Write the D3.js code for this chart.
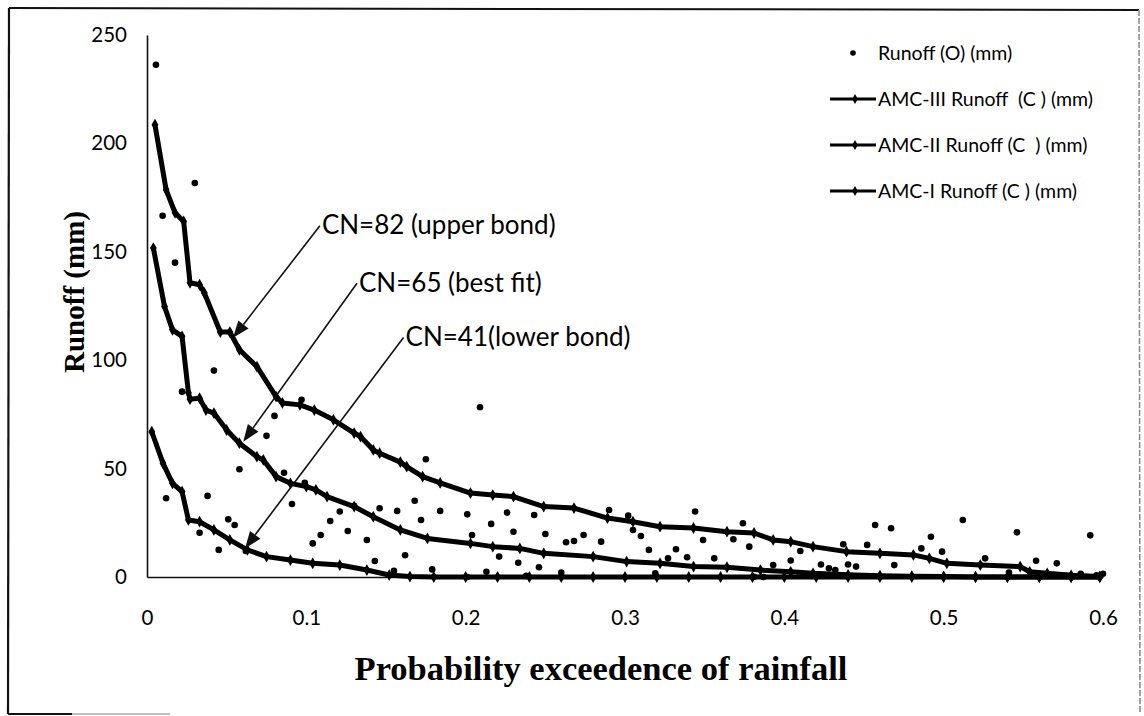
<!DOCTYPE html>
<html>
<head>
<meta charset="utf-8">
<script src="https://cdn.jsdelivr.net/npm/d3@7"></script>
<style>
  html, body { margin: 0; padding: 0; background: #fff; }
  svg { display: block; }
  .legend text { white-space: pre; }
</style>
</head>
<body>
<svg id="chart" width="1144" height="716"></svg>
<script>
// Tick values for both axes
const probTicks = [0, 0.1, 0.2, 0.3, 0.4, 0.5, 0.6];
const runoffTicks = [0, 50, 100, 150, 200, 250];

// Observed runoff (mm) against probability of exceedence
const observedRunoff = [
  [0.0056,236.3],[0.0098,166.6],[0.012,36.3],[0.0176,145],[0.022,85.5],[0.030,181.7],[0.033,20.4],
  [0.038,37.4],[0.042,95.2],[0.045,12.5],[0.051,26.6],[0.055,24],[0.058,49.7],[0.062,12],
  [0.075,65.1],[0.080,74.3],[0.086,48.1],[0.091,33.7],[0.097,81.7],[0.099,43.5],[0.104,15.5],
  [0.109,19.4],[0.115,25.8],[0.121,30.2],[0.126,21.2],[0.130,32.8],[0.138,17.1],[0.143,7.4],
  [0.146,31.7],[0.155,2.9],[0.157,30.5],[0.162,10],[0.168,35.2],[0.172,26.3],[0.175,54.3],
  [0.179,3.5],[0.184,30.5],[0.201,28.9],[0.201,0],[0.204,19.4],[0.209,78.3],[0.213,2.4],
  [0.216,24.5],[0.221,9.4],[0.226,29.7],[0.230,20.9],[0.233,6.6],[0.238,0.5],[0.243,28.6],
  [0.246,4.5],[0.250,19.8],[0.260,2],[0.263,16],[0.268,16.6],[0.274,19.4],[0.285,16.3],
  [0.290,30.9],[0.302,28.3],[0.305,21.7],[0.310,18.9],[0.315,12.5],[0.319,1.7],[0.327,8.6],
  [0.332,12.8],[0.339,9.1],[0.344,30.2],[0.349,17.1],[0.356,8.6],[0.368,17.4],[0.374,24.8],
  [0.378,14],[0.381,0.1],[0.387,0],[0.393,5.5],[0.404,7.6],[0.410,12],[0.423,5.8],[0.428,4],
  [0.432,3.2],[0.437,15.1],[0.440,5.8],[0.445,4.8],[0.452,14.8],[0.457,24],[0.467,22.5],
  [0.469,5.5],[0.486,13.2],[0.492,18.6],[0.499,11.7],[0.512,26.3],[0.526,8.6],[0.541,2],
  [0.546,20.6],[0.558,7.5],[0.571,6.3],[0.592,19.2],[0.562,1],[0.577,0.5],[0.586,1.5],
  [0.596,0.8],[0.600,1.5]
];

// Computed runoff, CN = 82 (AMC-III)
const amc3Runoff = [
  [0.005,208.6],[0.012,178.6],[0.0176,168],[0.023,164],[0.027,135.7],[0.033,134.8],[0.036,131],
  [0.046,113],[0.052,113],[0.058,104.8],[0.069,97],[0.081,83.2],[0.085,80.3],[0.096,79.4],
  [0.105,77],[0.117,72.5],[0.130,66.4],[0.134,64.8],[0.142,58.6],[0.146,57.1],[0.159,53],
  [0.163,50.9],[0.173,46.3],[0.184,43.4],[0.203,38.7],[0.217,37.8],[0.230,37.1],[0.249,32.5],
  [0.268,31.8],[0.289,27.2],[0.305,25.5],[0.322,23.2],[0.343,22.6],[0.364,20.9],[0.381,20.3],
  [0.393,17.1],[0.404,16.3],[0.418,14],[0.439,11.7],[0.460,10.9],[0.481,10.2],[0.491,8.6],
  [0.502,6.3],[0.523,5.5],[0.548,4.8],[0.554,2.4],[0.565,1.7],[0.580,0.8],[0.598,0.2]
];

// Computed runoff, CN = 65 (AMC-II)
const amc2Runoff = [
  [0.004,151.7],[0.011,124.8],[0.016,114],[0.022,111],[0.026,85],[0.027,82],[0.033,82.5],
  [0.037,77],[0.042,75.6],[0.050,67.8],[0.058,61.7],[0.069,55.5],[0.073,54],[0.081,46.3],
  [0.090,43.2],[0.100,41.7],[0.106,40.2],[0.113,37.1],[0.130,32.5],[0.142,27.8],[0.159,21.7],
  [0.176,17.8],[0.203,15.5],[0.217,14],[0.234,13.2],[0.249,10.9],[0.280,9.4],[0.301,7.1],
  [0.322,6.3],[0.343,4.8],[0.364,4.5],[0.385,3.2],[0.404,2.4],[0.418,1.7],[0.440,1.0],
  [0.460,0.6],[0.480,0.4],[0.500,0.2],[0.520,0],[0.540,0],[0.560,0],[0.580,0],[0.598,0]
];

// Computed runoff, CN = 41 (AMC-I)
const amc1Runoff = [
  [0.003,67],[0.010,52.5],[0.016,43.2],[0.022,39.4],[0.026,26.3],[0.033,25.5],[0.042,21.7],
  [0.052,17.1],[0.063,12.5],[0.075,9.4],[0.090,7.8],[0.104,6.3],[0.121,5.5],[0.138,3.2],
  [0.152,0.9],[0.165,0.2],[0.180,0],[0.200,0],[0.220,0],[0.240,0],[0.260,0],[0.280,0],
  [0.300,0],[0.320,0],[0.340,0],[0.360,0],[0.380,0],[0.400,0],[0.420,0],[0.440,0],
  [0.460,0],[0.480,0],[0.500,0],[0.520,0],[0.540,0],[0.560,0],[0.580,0],[0.598,0]
];

const legendLabels = [
  "Runoff (O) (mm)",
  "AMC-III Runoff  (C ) (mm)",
  "AMC-II Runoff (C  ) (mm)",
  "AMC-I Runoff (C ) (mm)"
];

// Curve-number callouts: label, label anchor (prob, mm), arrow tip (prob, mm)
const calloutLabels = ["CN=82 (upper bond)", "CN=65 (best fit)", "CN=41(lower bond)"];
const calloutAnchor = [[0.1085, 162], [0.1318, 135.5], [0.1610, 110.5]];
const calloutTip = [[0.0540, 110.3], [0.0604, 62.4], [0.0615, 13.2]];

const svg = d3.select("#chart");
const sansFont = "Lato, 'Open Sans', sans-serif";
const serifFont = "'Liberation Serif', 'DejaVu Serif', serif";

const x = d3.scaleLinear().domain([0, 0.6]).range([147, 1103]);
const y = d3.scaleLinear().domain([0, 250]).range([577, 35]);

// Outer frame
const frame = svg.append("g").attr("fill", "none");
frame.append("line").attr("x1", 9).attr("y1", 8).attr("x2", 1139).attr("y2", 10)
  .attr("stroke", "#111").attr("stroke-width", 2);
frame.append("line").attr("x1", 9).attr("y1", 8).attr("x2", 8).attr("y2", 714)
  .attr("stroke", "#111").attr("stroke-width", 2.2);
frame.append("line").attr("x1", 1139).attr("y1", 10).attr("x2", 1140).attr("y2", 714)
  .attr("stroke", "#888").attr("stroke-width", 1.5).attr("stroke-dasharray", "6 2");
frame.append("line").attr("x1", 8).attr("y1", 714).attr("x2", 72).attr("y2", 714)
  .attr("stroke", "#111").attr("stroke-width", 2);
frame.append("line").attr("x1", 72).attr("y1", 714).attr("x2", 170).attr("y2", 714)
  .attr("stroke", "#aaa").attr("stroke-width", 1.5);

// Axes
const xAxis = svg.append("g").attr("transform", `translate(0,${y(0)})`)
  .call(d3.axisBottom(x).tickValues(probTicks).tickSize(0).tickPadding(33)
    .tickFormat(d => d === 0 ? "0" : d3.format(".1f")(d)));
xAxis.select(".domain").attr("stroke", "#111").attr("stroke-width", 1.6);
xAxis.selectAll("text").attr("font-family", sansFont).attr("font-size", 20.5).attr("fill", "#000");

const yAxis = svg.append("g").attr("transform", `translate(${x(0)},0)`)
  .call(d3.axisLeft(y).tickValues(runoffTicks).tickSize(0).tickPadding(20));
yAxis.select(".domain").attr("stroke", "#111").attr("stroke-width", 1.6);
yAxis.selectAll("text").attr("font-family", sansFont).attr("font-size", 20.5).attr("fill", "#000");

// Axis titles
svg.append("text")
  .attr("x", (x(0) + x(0.6)) / 2 - 24).attr("y", 680)
  .attr("text-anchor", "middle")
  .attr("font-family", serifFont).attr("font-weight", "bold").attr("font-size", 34.5)
  .attr("fill", "#000")
  .text("Probability exceedence of rainfall");

svg.append("text")
  .attr("transform", `translate(84,${(y(0) + y(250)) / 2 - 14}) rotate(-90)`)
  .attr("text-anchor", "middle")
  .attr("font-family", serifFont).attr("font-weight", "bold").attr("font-size", 29)
  .attr("fill", "#000")
  .text("Runoff (mm)");

// Computed runoff curves
const line = d3.line().x(d => x(d[0])).y(d => y(d[1]));
const diamond = d3.symbol().type(d3.symbolDiamond).size(40);
[amc3Runoff, amc2Runoff, amc1Runoff].forEach(series => {
  svg.append("path").datum(series)
    .attr("d", line)
    .attr("fill", "none").attr("stroke", "#000")
    .attr("stroke-width", 5).attr("stroke-linejoin", "round").attr("stroke-linecap", "round");
  svg.append("g").selectAll("path").data(series).join("path")
    .attr("d", diamond)
    .attr("transform", d => `translate(${x(d[0])},${y(d[1])})`)
    .attr("fill", "#000");
});

// Observed runoff points
svg.append("g").selectAll("circle").data(observedRunoff).join("circle")
  .attr("cx", d => x(d[0])).attr("cy", d => y(d[1])).attr("r", 3.3)
  .attr("fill", "#000");

// Callouts with arrows
const callouts = svg.append("g");
calloutLabels.forEach((label, i) => {
  const [ax, ay] = calloutAnchor[i];
  const [tx, ty] = calloutTip[i];
  const x1 = x(ax), y1 = y(ay), x2 = x(tx), y2 = y(ty);
  const ang = Math.atan2(y2 - y1, x2 - x1);
  const headLen = 17, headHalf = 6.5;
  const bx = x2 - headLen * Math.cos(ang), by = y2 - headLen * Math.sin(ang);
  callouts.append("line")
    .attr("x1", x1).attr("y1", y1).attr("x2", bx).attr("y2", by)
    .attr("stroke", "#111").attr("stroke-width", 1.6);
  const px = -Math.sin(ang), py = Math.cos(ang);
  callouts.append("path")
    .attr("d", `M${x2},${y2}L${bx + px * headHalf},${by + py * headHalf}L${bx - px * headHalf},${by - py * headHalf}Z`)
    .attr("fill", "#111");
  callouts.append("text")
    .attr("x", x1 + 2).attr("y", y1 + 8.5)
    .attr("font-family", sansFont).attr("font-size", 26).attr("fill", "#000")
    .text(label);
});

// Legend
const legend = svg.append("g").attr("class", "legend")
  .attr("font-family", sansFont).attr("font-size", 19.5).attr("fill", "#000");
legendLabels.forEach((label, i) => {
  const ly = 53 + i * 46;
  if (i === 0) {
    legend.append("circle").attr("cx", 853).attr("cy", ly).attr("r", 2.8).attr("fill", "#000");
  } else {
    legend.append("line").attr("x1", 830).attr("x2", 876).attr("y1", ly).attr("y2", ly)
      .attr("stroke", "#000").attr("stroke-width", 3);
    legend.append("path").attr("d", d3.symbol().type(d3.symbolDiamond).size(28))
      .attr("transform", `translate(855,${ly})`).attr("fill", "#000");
  }
  legend.append("text").attr("x", 878).attr("y", ly + 7).text(label);
});
</script>
</body>
</html>
